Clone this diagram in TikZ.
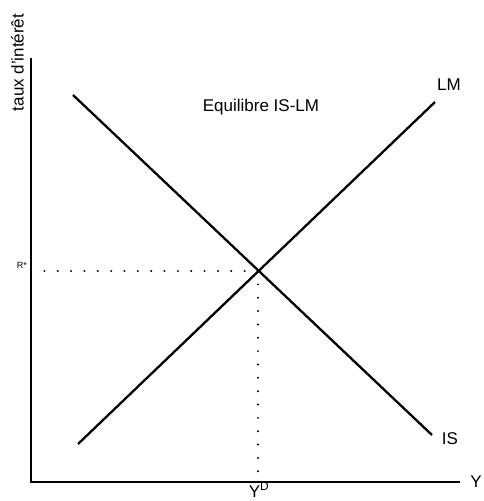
\documentclass[tikz,border=0pt]{standalone}
\usepackage{fontspec}
\setmainfont{Liberation Sans}
\usetikzlibrary{positioning}

\begin{document}
\begin{tikzpicture}[
    x=1pt, y=-1pt,
    curve/.style={line width=2.3pt},
    axisline/.style={line width=2.3pt},
    guide/.style={line width=2.2pt, line cap=round, dash pattern=on 0pt off 13.35pt},
    lbl/.style={inner sep=0pt, anchor=base, font=\fontsize{17}{20}\selectfont},
    smalllbl/.style={inner sep=0pt, anchor=base, font=\fontsize{9}{11}\selectfont}
]
\useasboundingbox (0,0) rectangle (483,501);
% axes
\coordinate (origin) at (31,482);
\coordinate (ytop) at (31,58);
\coordinate (xend) at (460,482);
\draw[axisline] (ytop) -- (origin) -- (xend);
% curves
\coordinate (ISstart) at (73,95);
\coordinate (ISend) at (432,435);
\coordinate (LMstart) at (78,444);
\coordinate (LMend) at (435,102);
\draw[curve] (ISstart) -- (ISend);
\draw[curve] (LMstart) -- (LMend);
% equilibrium
\coordinate (eq) at (258,271);
\coordinate (rfoot) at (40,271);
\coordinate (yfoot) at (258,476);
\draw[guide] (eq) -- (rfoot);
\draw[guide] (eq) -- (yfoot);
% labels
\node[lbl, rotate=90] (taux) at (23.5,62.5) {taux d'intérêt};
\node[lbl] (Ylab) at (476,487) {Y};
\node[lbl] (ISlab) at (450,444) {IS};
\node[lbl] (LMlab) at (449,90) {LM};
\node[lbl] (title) at (261,111) {Equilibre IS-LM};
\node[lbl] (YD) at (259,497) {Y\textsuperscript{D}};
\node[smalllbl] (Rstar) at (22,268) {R*};
\end{tikzpicture}
\end{document}
